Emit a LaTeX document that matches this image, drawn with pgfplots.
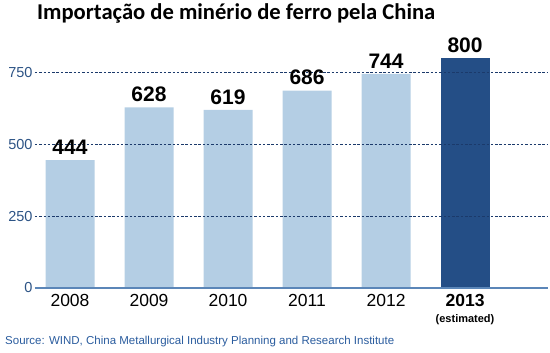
\documentclass[border=0pt]{standalone}
\usepackage{pgfplots}
\pgfplotsset{compat=1.18}
\usepackage{fontspec}
\setmainfont{Liberation Sans}
\newfontfamily\titlefont{Carlito}
\definecolor{lightbar}{HTML}{B4CEE4}
\definecolor{darkbar}{HTML}{244E86}
\definecolor{gridc}{HTML}{1B3A6B}
\definecolor{basec}{HTML}{5B86B8}
\definecolor{tickc}{HTML}{2C5385}
\definecolor{srcc}{HTML}{2A5C9E}
\begin{document}
\begin{tikzpicture}
\path[use as bounding box] (0,0) rectangle (550pt,353pt);
\node[anchor=base west, inner sep=0pt, font=\titlefont\bfseries\fontsize{22.6}{25}\selectfont] at (37pt,333pt) {Importação de minério de ferro pela China};
\begin{axis}[
  at={(35pt,65pt)}, anchor=south west,
  scale only axis, width=513pt, height=236pt,
  xmin=-0.443, xmax=6.05, ymin=0, ymax=820,
  clip=false, axis on top,
  axis line style={draw=none},
  major tick length=0pt,
  xtick={0,1,2,3,4,5},
  xticklabels={2008,2009,2010,2011,2012,{\bfseries 2013\\[-3pt]{\bfseries\fontsize{11}{12}\selectfont (estimated)}}},
  xticklabel style={font=\fontsize{17.5}{19}\selectfont, align=center, yshift=-3pt, text=black},
  ytick={250,500,750},
  extra y ticks={0}, extra y tick labels={0},
  extra y tick style={grid style={solid, color=basec, line width=1.8pt}},
  ymajorgrids,
  grid style={dash pattern=on 2.5pt off 1.8pt, color=gridc, line width=0.9pt},
  yticklabel style={font=\fontsize{14.5}{16}\selectfont, text=tickc, xshift=1pt},
  /pgf/number format/assume math mode=true,
  nodes near coords,
  nodes near coords style={font=\bfseries\fontsize{21}{23}\selectfont, text=black, anchor=south, yshift=2pt},
  point meta=explicit symbolic,
]
\addplot[ybar, bar width=49pt, bar shift=0pt, fill=lightbar, draw=none] coordinates {(0,444)[444] (1,628)[628] (2,619)[619] (3,686)[686] (4,744)[744]};
\addplot[ybar, bar width=49pt, bar shift=0pt, fill=darkbar, draw=none] coordinates {(5,800)[800]};
\end{axis}
\node[anchor=base west, inner sep=0pt, text=srcc, font=\fontsize{11.5}{13}\selectfont] at (5pt,8pt) {Source: WIND, China Metallurgical Industry Planning and Research Institute};
\end{tikzpicture}
\end{document}
